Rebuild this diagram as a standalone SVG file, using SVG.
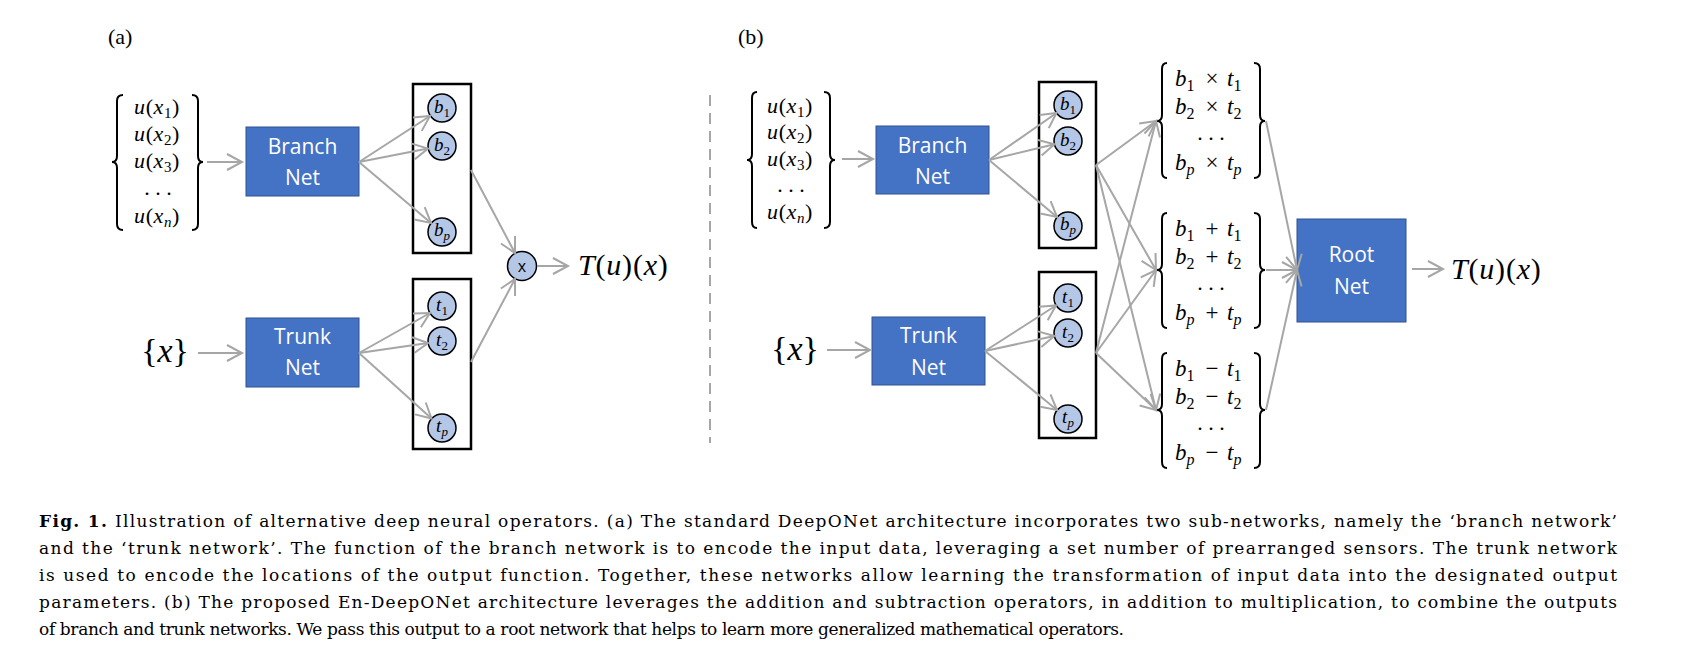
<svg xmlns="http://www.w3.org/2000/svg" width="1694" height="662" viewBox="0 0 1694 662">
<style>
.arr{stroke:#A6A6A6;stroke-width:2;fill:none;marker-end:url(#ah)}
.box{fill:#4472C4;stroke:#2F528F;stroke-width:1}
.bt{font-family:"Open Sans",sans-serif;font-size:21px;fill:#fff;text-anchor:middle}
.nd{fill:#B4C7E7;stroke:#000;stroke-width:1.5}
.frame{fill:none;stroke:#000;stroke-width:2.5}
.m{font-family:"Liberation Serif","DejaVu Serif",serif;font-style:italic;fill:#000}
.up{font-style:normal}
.br{fill:none;stroke:#000;stroke-width:2}
.cl{font-size:19px;text-anchor:middle}
.in{font-size:22px;text-anchor:middle;letter-spacing:0.6px}
.g{font-size:23px}
.d{font-size:22px;text-anchor:middle;font-style:normal}
.mid{text-anchor:middle;font-style:normal}
.cap{font-family:"DejaVu Serif","Liberation Serif",serif;font-size:17px;fill:#000}
.lab{font-family:"Liberation Serif",serif;font-size:22px;fill:#000}
</style>
<defs>
<marker id="ah" markerUnits="userSpaceOnUse" markerWidth="20" markerHeight="20" viewBox="0 0 20 20" refX="17" refY="10" orient="auto">
<path d="M2,2 L17,10 L2,18" fill="none" stroke="#A6A6A6" stroke-width="2"/>
</marker>
</defs>
<rect width="1694" height="662" fill="#fff"/>

<text class="lab" x="108" y="44">(a)</text>
<text class="lab" x="738" y="44">(b)</text>
<line x1="710" y1="95" x2="710" y2="443" stroke="#A6A6A6" stroke-width="2" stroke-dasharray="11,7"/>

<!-- ===== (a) ===== -->
<g id="a-input">
<path class="br" d="M123,95 Q117,95 117,101 L117,156 Q117,162 112,162 Q117,162 117,168 L117,224 Q117,230 123,230"/>
<path class="br" d="M192,95 Q198,95 198,101 L198,156 Q198,162 203,162 Q198,162 198,168 L198,224 Q198,230 192,230"/>
<text class="m in" x="157" y="114">u<tspan class="up">(</tspan>x<tspan class="up" font-size="15" dy="4">1</tspan><tspan class="up" dy="-4">)</tspan></text>
<text class="m in" x="157" y="141">u<tspan class="up">(</tspan>x<tspan class="up" font-size="15" dy="4">2</tspan><tspan class="up" dy="-4">)</tspan></text>
<text class="m in" x="157" y="168">u<tspan class="up">(</tspan>x<tspan class="up" font-size="15" dy="4">3</tspan><tspan class="up" dy="-4">)</tspan></text>
<text class="m d" x="158" y="195">. . .</text>
<text class="m in" x="157" y="223">u<tspan class="up">(</tspan>x<tspan font-size="15" dy="4">n</tspan><tspan class="up" dy="-4">)</tspan></text>
</g>
<g id="a-branch">
<rect class="box" x="246" y="127" width="113" height="69"/>
<text class="bt" x="302.5" y="154">Branch</text>
<text class="bt" x="302.5" y="185">Net</text>
</g>
<g id="a-bvec">
<rect class="frame" x="413" y="84" width="58" height="169"/>
<circle class="nd" cx="442" cy="108" r="14"/>
<text class="m cl" x="442" y="113">b<tspan class="up" font-size="13" dy="4">1</tspan></text>
<circle class="nd" cx="442" cy="146" r="14"/>
<text class="m cl" x="442" y="151">b<tspan class="up" font-size="13" dy="4">2</tspan></text>
<circle class="nd" cx="442" cy="232" r="14"/>
<text class="m cl" x="442" y="236">b<tspan font-size="13" dy="4">p</tspan></text>
</g>
<g id="a-xin">
<text class="m" x="165" y="362" font-size="34" text-anchor="middle"><tspan class="up">{</tspan>x<tspan class="up">}</tspan></text>
</g>
<g id="a-trunk">
<rect class="box" x="246" y="318" width="113" height="69"/>
<text class="bt" x="302.5" y="344">Trunk</text>
<text class="bt" x="302.5" y="375">Net</text>
</g>
<g id="a-tvec">
<rect class="frame" x="413" y="279" width="58" height="170"/>
<circle class="nd" cx="442" cy="306" r="14"/>
<text class="m cl" x="442" y="311">t<tspan class="up" font-size="13" dy="4">1</tspan></text>
<circle class="nd" cx="442" cy="341" r="14"/>
<text class="m cl" x="442" y="346">t<tspan class="up" font-size="13" dy="4">2</tspan></text>
<circle class="nd" cx="442" cy="428" r="14"/>
<text class="m cl" x="442" y="432">t<tspan font-size="13" dy="4">p</tspan></text>
</g>
<g id="a-mult">
<circle class="nd" cx="522" cy="266" r="14.5"/>
<text x="522" y="272" font-family="Open Sans,sans-serif" font-size="16" text-anchor="middle">x</text>
</g>
<g id="a-out">
<text class="m" x="578" y="275" font-size="30" letter-spacing="0.8">T<tspan class="up">(</tspan>u<tspan class="up">)(</tspan>x<tspan class="up">)</tspan></text>
</g>

<!-- ===== (b) ===== -->
<g id="b-input">
<path class="br" d="M757,92 Q752,92 752,98 L752,154 Q752,160 747,160 Q752,160 752,166 L752,222 Q752,228 757,228"/>
<path class="br" d="M824,92 Q830,92 830,98 L830,154 Q830,160 835,160 Q830,160 830,166 L830,222 Q830,228 824,228"/>
<text class="m in" x="790" y="113">u<tspan class="up">(</tspan>x<tspan class="up" font-size="15" dy="4">1</tspan><tspan class="up" dy="-4">)</tspan></text>
<text class="m in" x="790" y="139">u<tspan class="up">(</tspan>x<tspan class="up" font-size="15" dy="4">2</tspan><tspan class="up" dy="-4">)</tspan></text>
<text class="m in" x="790" y="166">u<tspan class="up">(</tspan>x<tspan class="up" font-size="15" dy="4">3</tspan><tspan class="up" dy="-4">)</tspan></text>
<text class="m d" x="791" y="192">. . .</text>
<text class="m in" x="790" y="219">u<tspan class="up">(</tspan>x<tspan font-size="15" dy="4">n</tspan><tspan class="up" dy="-4">)</tspan></text>
</g>
<g id="b-branch">
<rect class="box" x="876" y="126" width="113" height="68"/>
<text class="bt" x="932.5" y="153">Branch</text>
<text class="bt" x="932.5" y="184">Net</text>
</g>
<g id="b-bvec">
<rect class="frame" x="1039" y="82" width="57" height="166"/>
<circle class="nd" cx="1068" cy="105" r="14"/>
<text class="m cl" x="1068" y="110">b<tspan class="up" font-size="13" dy="4">1</tspan></text>
<circle class="nd" cx="1068" cy="141" r="14"/>
<text class="m cl" x="1068" y="146">b<tspan class="up" font-size="13" dy="4">2</tspan></text>
<circle class="nd" cx="1068" cy="226" r="14"/>
<text class="m cl" x="1068" y="230">b<tspan font-size="13" dy="4">p</tspan></text>
</g>
<g id="b-xin">
<text class="m" x="795" y="360" font-size="34" text-anchor="middle"><tspan class="up">{</tspan>x<tspan class="up">}</tspan></text>
</g>
<g id="b-trunk">
<rect class="box" x="872" y="317" width="113" height="68"/>
<text class="bt" x="928.5" y="343">Trunk</text>
<text class="bt" x="928.5" y="375">Net</text>
</g>
<g id="b-tvec">
<rect class="frame" x="1039" y="272" width="57" height="166"/>
<circle class="nd" cx="1068" cy="298" r="14"/>
<text class="m cl" x="1068" y="303">t<tspan class="up" font-size="13" dy="4">1</tspan></text>
<circle class="nd" cx="1068" cy="333" r="14"/>
<text class="m cl" x="1068" y="338">t<tspan class="up" font-size="13" dy="4">2</tspan></text>
<circle class="nd" cx="1068" cy="419" r="14"/>
<text class="m cl" x="1068" y="423">t<tspan font-size="13" dy="4">p</tspan></text>
</g>
<g id="b-mul">
<path class="br" d="M1167,63 Q1162,63 1162,69 L1162,115 Q1162,121 1157,121 Q1162,121 1162,127 L1162,172 Q1162,178 1167,178"/>
<path class="br" d="M1254,63 Q1260,63 1260,69 L1260,115 Q1260,121 1265,121 Q1260,121 1260,127 L1260,172 Q1260,178 1254,178"/>
<text class="m g" x="1175" y="86">b<tspan class="up" font-size="16" dy="5">1</tspan><tspan class="mid" x="1212" dy="-5">×</tspan><tspan x="1227">t</tspan><tspan class="up" font-size="16" dy="5">1</tspan></text>
<text class="m g" x="1175" y="114">b<tspan class="up" font-size="16" dy="5">2</tspan><tspan class="mid" x="1212" dy="-5">×</tspan><tspan x="1227">t</tspan><tspan class="up" font-size="16" dy="5">2</tspan></text>
<text class="m d" x="1211" y="140">. . .</text>
<text class="m g" x="1175" y="170">b<tspan font-size="16" dy="5">p</tspan><tspan class="mid" x="1212" dy="-5">×</tspan><tspan x="1227">t</tspan><tspan font-size="16" dy="5">p</tspan></text>
</g>
<g id="b-add">
<path class="br" d="M1167,213 Q1162,213 1162,219 L1162,264 Q1162,270 1157,270 Q1162,270 1162,276 L1162,322 Q1162,328 1167,328"/>
<path class="br" d="M1254,213 Q1260,213 1260,219 L1260,264 Q1260,270 1265,270 Q1260,270 1260,276 L1260,322 Q1260,328 1254,328"/>
<text class="m g" x="1175" y="236">b<tspan class="up" font-size="16" dy="5">1</tspan><tspan class="mid" x="1212" dy="-5">+</tspan><tspan x="1227">t</tspan><tspan class="up" font-size="16" dy="5">1</tspan></text>
<text class="m g" x="1175" y="264">b<tspan class="up" font-size="16" dy="5">2</tspan><tspan class="mid" x="1212" dy="-5">+</tspan><tspan x="1227">t</tspan><tspan class="up" font-size="16" dy="5">2</tspan></text>
<text class="m d" x="1211" y="290">. . .</text>
<text class="m g" x="1175" y="320">b<tspan font-size="16" dy="5">p</tspan><tspan class="mid" x="1212" dy="-5">+</tspan><tspan x="1227">t</tspan><tspan font-size="16" dy="5">p</tspan></text>
</g>
<g id="b-sub">
<path class="br" d="M1167,353 Q1162,353 1162,359 L1162,404 Q1162,410 1157,410 Q1162,410 1162,416 L1162,462 Q1162,468 1167,468"/>
<path class="br" d="M1254,353 Q1260,353 1260,359 L1260,404 Q1260,410 1265,410 Q1260,410 1260,416 L1260,462 Q1260,468 1254,468"/>
<text class="m g" x="1175" y="376">b<tspan class="up" font-size="16" dy="5">1</tspan><tspan class="mid" x="1212" dy="-5">−</tspan><tspan x="1227">t</tspan><tspan class="up" font-size="16" dy="5">1</tspan></text>
<text class="m g" x="1175" y="404">b<tspan class="up" font-size="16" dy="5">2</tspan><tspan class="mid" x="1212" dy="-5">−</tspan><tspan x="1227">t</tspan><tspan class="up" font-size="16" dy="5">2</tspan></text>
<text class="m d" x="1211" y="430">. . .</text>
<text class="m g" x="1175" y="460">b<tspan font-size="16" dy="5">p</tspan><tspan class="mid" x="1212" dy="-5">−</tspan><tspan x="1227">t</tspan><tspan font-size="16" dy="5">p</tspan></text>
</g>
<g id="b-root">
<rect class="box" x="1297" y="219" width="109" height="103"/>
<text class="bt" x="1351.5" y="262">Root</text>
<text class="bt" x="1351.5" y="294">Net</text>
</g>
<g id="b-out">
<text class="m" x="1451" y="279" font-size="30" letter-spacing="0.8">T<tspan class="up">(</tspan>u<tspan class="up">)(</tspan>x<tspan class="up">)</tspan></text>
</g>

<g id="connectors">
<line class="arr" x1="207" y1="162" x2="242" y2="162"/>
<line class="arr" x1="359" y1="162" x2="430" y2="116"/>
<line class="arr" x1="359" y1="162" x2="428" y2="148.6"/>
<line class="arr" x1="359" y1="162" x2="431" y2="223"/>
<line class="arr" x1="198" y1="353" x2="242" y2="353"/>
<line class="arr" x1="359" y1="353" x2="430" y2="313"/>
<line class="arr" x1="359" y1="353" x2="428" y2="343"/>
<line class="arr" x1="359" y1="353" x2="431.5" y2="418.5"/>
<line class="arr" x1="471" y1="170" x2="515" y2="253"/>
<line class="arr" x1="471" y1="362" x2="515" y2="279"/>
<line class="arr" x1="537" y1="266" x2="568" y2="266"/>

<line class="arr" x1="842" y1="159" x2="873" y2="159"/>
<line class="arr" x1="989" y1="160" x2="1056.5" y2="113"/>
<line class="arr" x1="989" y1="160" x2="1054.4" y2="144.3"/>
<line class="arr" x1="989" y1="160" x2="1057" y2="217"/>
<line class="arr" x1="827" y1="350" x2="870" y2="350"/>
<line class="arr" x1="985" y1="351" x2="1056" y2="305.5"/>
<line class="arr" x1="985" y1="351" x2="1054.3" y2="336"/>
<line class="arr" x1="985" y1="351" x2="1057" y2="410"/>
<line class="arr" x1="1096" y1="165" x2="1156" y2="121"/>
<line class="arr" x1="1096" y1="165" x2="1156" y2="270"/>
<line class="arr" x1="1096" y1="165" x2="1156" y2="410"/>
<line class="arr" x1="1096" y1="353" x2="1156" y2="121"/>
<line class="arr" x1="1096" y1="353" x2="1156" y2="270"/>
<line class="arr" x1="1096" y1="353" x2="1156" y2="410"/>
<line class="arr" x1="1266" y1="121" x2="1297" y2="270"/>
<line class="arr" x1="1266" y1="270" x2="1297" y2="270"/>
<line class="arr" x1="1266" y1="410" x2="1297" y2="270"/>
<line class="arr" x1="1412" y1="269" x2="1443" y2="269"/>
</g>

<g id="caption">
<text class="cap" x="39" y="527" textLength="1578" lengthAdjust="spacing"><tspan font-weight="bold">Fig. 1.</tspan> Illustration of alternative deep neural operators. (a) The standard DeepONet architecture incorporates two sub-networks, namely the ‘branch network’</text>
<text class="cap" x="39" y="554" textLength="1578" lengthAdjust="spacing">and the ‘trunk network’. The function of the branch network is to encode the input data, leveraging a set number of prearranged sensors. The trunk network</text>
<text class="cap" x="39" y="581" textLength="1578" lengthAdjust="spacing">is used to encode the locations of the output function. Together, these networks allow learning the transformation of input data into the designated output</text>
<text class="cap" x="39" y="608" textLength="1578" lengthAdjust="spacing">parameters. (b) The proposed En-DeepONet architecture leverages the addition and subtraction operators, in addition to multiplication, to combine the outputs</text>
<text class="cap" x="39" y="635" textLength="1085" lengthAdjust="spacing">of branch and trunk networks. We pass this output to a root network that helps to learn more generalized mathematical operators.</text>
</g>
</svg>
